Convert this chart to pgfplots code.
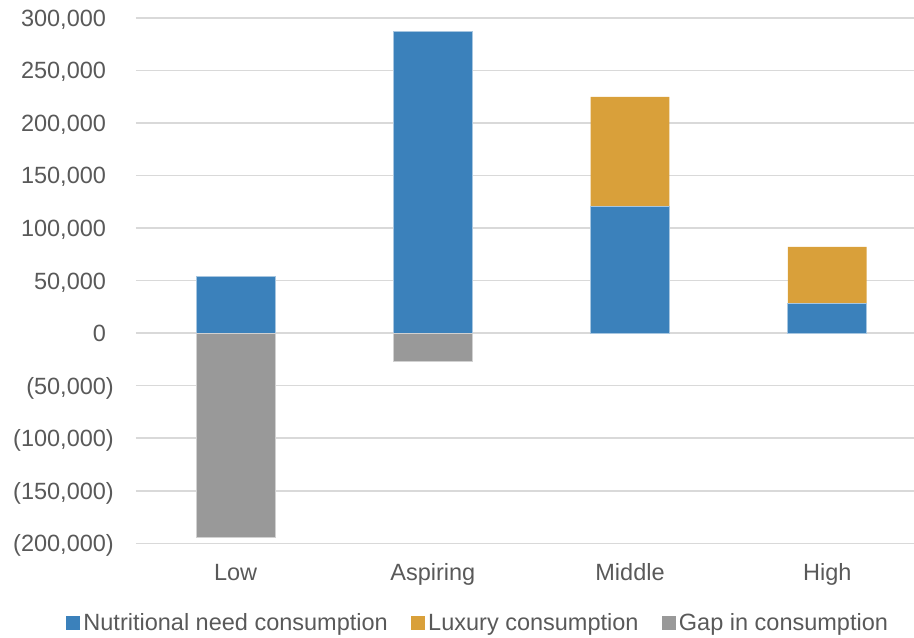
\documentclass[border=0pt]{standalone}
\usepackage{pgfplots}
\usepackage{pgfplotstable}
\pgfplotsset{compat=1.18}
\usepackage{fontspec}
\setmainfont{Liberation Sans}

\definecolor{needblue}{RGB}{59,129,187}
\definecolor{luxgold}{RGB}{217,160,58}
\definecolor{gapgray}{RGB}{153,153,153}
\definecolor{gridgray}{RGB}{217,217,217}
\definecolor{labelgray}{RGB}{89,89,89}

% consumption by income class (positive part: stacked)
\pgfplotstableread{
idx need luxury
0 53600 0
1 287600 0
2 120300 104700
3 28300 53900
}\positive

% shortfall below the nutritional need
\pgfplotstableread{
idx gap
0 -194000
1 -27300
}\shortfall

\newcommand{\lblfont}{\fontsize{23.5}{28}\selectfont}

\pgfplotsset{
  frame/.style={
    width=778pt, height=525.3pt, scale only axis,
    xmin=-0.505, xmax=3.44,
    ymin=-200000, ymax=300000,
    bar width=0.4,
  },
  sqlegend/.style={
    legend image code/.code={\fill[##1, draw=none] (0pt,-7pt) rectangle (14pt,7pt);}
  },
}

\begin{document}
\begin{tikzpicture}
\begin{axis}[frame, ybar stacked,
  axis line style={draw=none},
  major tick length=0pt,
  ymajorgrids, grid style={gridgray, line width=1.5pt},
  ytick={-200000,-150000,-100000,-50000,0,50000,100000,150000,200000,250000,300000},
  yticklabels={{(200,000)},{(150,000)},{(100,000)},{(50,000)},{0\phantom{)}},{50,000\phantom{)}},{100,000\phantom{)}},{150,000\phantom{)}},{200,000\phantom{)}},{250,000\phantom{)}},{300,000\phantom{)}}},
  scaled y ticks=false,
  xtick={0,1,2,3}, xticklabels={Low,Aspiring,Middle,High},
  tick label style={font=\lblfont, text=labelgray},
  yticklabel style={anchor=base east, inner sep=0pt, xshift=-22pt, yshift=-8.4pt},
  xticklabel style={anchor=base, inner sep=0pt, yshift=-37.4pt},
  legend columns=3,
  legend style={at={(0.4405,-0.152)}, anchor=center, draw=none, fill=none,
    font=\lblfont, text=labelgray,
    nodes={inner sep=3.2pt},
    /tikz/every even column/.append style={column sep=20pt}},
]
\addplot[fill=needblue, draw=needblue!45!white, line width=0.9pt, sqlegend]
  table[x=idx, y=need]{\positive};
\addplot[fill=luxgold, draw=none, sqlegend]
  table[x=idx, y=luxury]{\positive};
\addlegendimage{fill=gapgray, draw=none, sqlegend}
\legend{Nutritional need consumption, Luxury consumption, Gap in consumption}
\coordinate (bl) at (rel axis cs:0,0);
\coordinate (tr) at (rel axis cs:1,1);
\end{axis}
\begin{axis}[frame, ybar, hide axis]
\addplot[fill=gapgray, draw=gapgray!45!white, line width=0.9pt]
  table[x=idx, y=gap]{\shortfall};
\end{axis}
\pgfresetboundingbox
\path[use as bounding box] ([xshift=-136pt, yshift=-93.7pt]bl) rectangle ([yshift=18pt]tr);
\end{tikzpicture}
\end{document}
